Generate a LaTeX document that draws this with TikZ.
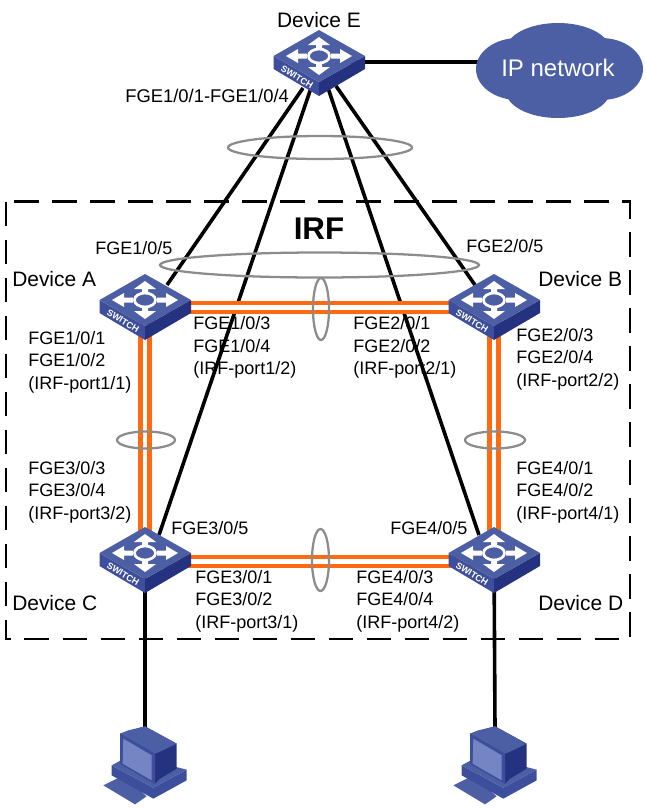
\documentclass[tikz,border=0pt]{standalone}
\usepackage{fontspec}
\setmainfont{Liberation Sans}
\usepackage{tikz}
\definecolor{swtop}{HTML}{4C5FA5}
\definecolor{swleft}{HTML}{3D4E9C}
\definecolor{swright}{HTML}{25327F}
\definecolor{pclight}{HTML}{7585C4}
\definecolor{irforange}{HTML}{FF6A10}
\definecolor{ringgray}{HTML}{8C8C8C}
\newcommand{\drawswitch}[1]{
\begin{scope}[shift={(#1)}]
	\fill[swleft] (-45.5,0) -- (-45.5,13) -- (0,40) -- (0,26) -- cycle;
	\fill[swright] (46,0) -- (46,13) -- (0,40) -- (0,26) -- cycle;
	\fill[swtop] (-45.5,0) -- (0,-26) -- (46,0) -- (0,26) -- cycle;
	\foreach \s in {1,-1} {
		\fill[white,yscale=\s] (0,-19) -- (11,-11) -- (3,-11) -- (3,-7) -- (-3,-7) -- (-3,-11) -- (-11,-11) -- cycle;
		\fill[white,xscale=\s] (-33,0) -- (-21,-7) -- (-21,-2.5) -- (-12,-2.5) -- (-12,2.5) -- (-21,2.5) -- (-21,7) -- cycle;
	}
	\draw[white,fill=swtop,line width=2pt] (0,0) ellipse (10.5 and 7);
	\node[white,rotate=-31,inner sep=0,font=\bfseries\fontsize{6.8}{7}\selectfont] at (-22,21) {SWITCH};
\end{scope}
}
\newcommand{\drawpc}[1]{
\begin{scope}[shift={(#1)},x=0.25pt,y=-0.25pt,shift={(-165,-80)}]
	\fill[swtop] (40,255) -- (100,225) -- (170,288) -- (135,312) -- cycle;
	\fill[swleft] (65,195) -- (65,225) -- (190,295) -- (290,240) -- (290,208) -- (190,262) -- cycle;
	\fill[swtop] (65,195) -- (120,165) -- (290,208) -- (190,262) -- cycle;
	\fill[swright] (90,100) -- (90,190) -- (195,250) -- (210,235) -- (260,205) -- (260,130) -- (165,78) -- cycle;
	\fill[swtop] (90,100) -- (115,90) -- (165,78) -- (260,130) -- (208,155) -- (195,160) -- cycle;
	\fill[swleft] (90,100) -- (195,160) -- (195,250) -- (90,190) -- cycle;
	\fill[pclight] (100,115) -- (185,165) -- (185,240) -- (98,190) -- cycle;
\end{scope}
}
\begin{document}
\begin{tikzpicture}[x=0.75pt,y=-0.75pt]
\tikzstyle{swnode}=[inner sep=0,minimum width=68pt,minimum height=50pt];
\tikzstyle{pcnode}=[inner sep=0,minimum size=0pt];
\tikzstyle{link}=[black,line width=2.7pt];
\tikzstyle{irflink}=[draw=irforange,line width=3.3pt,double=white,double distance=3.2pt];
\tikzstyle{ring}=[ringgray,line width=1.7pt];
\tikzstyle{lbl}=[anchor=west,align=left,inner sep=0,font=\fontsize{13.5}{16.9}\selectfont];
\tikzstyle{devlbl}=[lbl,font=\fontsize{15.7}{18}\selectfont];
\useasboundingbox (0,0) rectangle (646,808);
% places
\node[swnode] (swE) at (319,56) {};
\node[swnode] (swA) at (145,300) {};
\node[swnode] (swB) at (494,300) {};
\node[swnode] (swC) at (145,553) {};
\node[swnode] (swD) at (494,553) {};
\node[pcnode] (pcC) at (145,727) {};
\node[pcnode] (pcD) at (495,727) {};
\node[white,inner sep=0,font=\fontsize{18}{20}\selectfont] (cloud) at (558,68) {\phantom{IP network}};
% links
\draw[link] ([shift={(0,6)}]swE.center) -- ([shift={(-40,-6)}]cloud.center);
\draw[link] ([shift={(-16,32)}]swE.center) -- ([shift={(22,-15)}]swA.center);
\draw[link] ([shift={(-8,32)}]swE.center) -- ([shift={(14,-18)}]swC.center);
\draw[link] ([shift={(9,32)}]swE.center) -- ([shift={(-15,-18)}]swD.center);
\draw[link] ([shift={(17,30)}]swE.center) -- ([shift={(-19,-15)}]swB.center);
\draw[link] (swC.center) -- (pcC.center);
\draw[link] (swD.center) -- (pcD.center);
\draw[irflink] ([shift={(0,7.5)}]swA.center) -- ([shift={(0,7.5)}]swB.center);
\draw[irflink] ([shift={(0,8.5)}]swC.center) -- ([shift={(0,8.5)}]swD.center);
\draw[irflink] (swA.center) -- (swC.center);
\draw[irflink] (swB.center) -- (swD.center);
% cloud
\fill[swtop] (558,50) ellipse (52 and 27);
\fill[swtop] (558,91) ellipse (52 and 27);
\fill[swtop] (518,69) ellipse (42 and 31);
\fill[swtop] (601,69) ellipse (42 and 31);
\node[white,inner sep=0,font=\fontsize{18}{20}\selectfont] (cloudtext) at (cloud.center) {IP network};
% devices
\drawswitch{swE}
\drawswitch{swA}
\drawswitch{swB}
\drawswitch{swC}
\drawswitch{swD}
\drawpc{pcC}
\drawpc{pcD}
% rings and frame
\draw[ring] (320,147.5) ellipse (92 and 11.5);
\draw[ring] (319.5,265) ellipse (159.5 and 12.5);
\draw[ring] (321,309) ellipse (8 and 31);
\draw[ring] (320.5,560) ellipse (8.5 and 31);
\draw[ring] (146,440) ellipse (29 and 8.5);
\draw[ring] (495,440) ellipse (30 and 8.5);
\draw[black,line width=2pt,dash pattern=on 18.7pt off 9.8pt] (6,201.5) rectangle (630,639);
% labels
\node[devlbl,anchor=center] (nameE) at (319,20) {Device E};
\node[lbl,font=\fontsize{13.8}{16.9}\selectfont] (portE) at (125,96) {FGE1/0/1-FGE1/0/4};
\node[lbl,anchor=center,font=\bfseries\fontsize{23.5}{26}\selectfont] (irf) at (319,228.5) {IRF};
\node[devlbl] (nameA) at (12,279) {Device A};
\node[devlbl] (nameB) at (538,279) {Device B};
\node[devlbl] (nameC) at (12,603) {Device C};
\node[devlbl] (nameD) at (538,603) {Device D};
\node[lbl] (portA) at (95,248) {FGE1/0/5};
\node[lbl] (portB) at (466,246) {FGE2/0/5};
\node[lbl] (portC) at (171,528) {FGE3/0/5};
\node[lbl] (portD) at (390,528) {FGE4/0/5};
\node[lbl] (irfAa) at (28,362) {FGE1/0/1\\FGE1/0/2\\(IRF-port1/1)};
\node[lbl] (irfAb) at (193,347.5) {FGE1/0/3\\FGE1/0/4\\(IRF-port1/2)};
\node[lbl] (irfBa) at (353,347.5) {FGE2/0/1\\FGE2/0/2\\(IRF-port2/1)};
\node[lbl] (irfBb) at (516,359) {FGE2/0/3\\FGE2/0/4\\(IRF-port2/2)};
\node[lbl] (irfCb) at (28,492) {FGE3/0/3\\FGE3/0/4\\(IRF-port3/2)};
\node[lbl] (irfDa) at (516,492) {FGE4/0/1\\FGE4/0/2\\(IRF-port4/1)};
\node[lbl] (irfCa) at (195,601) {FGE3/0/1\\FGE3/0/2\\(IRF-port3/1)};
\node[lbl] (irfDb) at (356,601) {FGE4/0/3\\FGE4/0/4\\(IRF-port4/2)};
\end{tikzpicture}
\end{document}
